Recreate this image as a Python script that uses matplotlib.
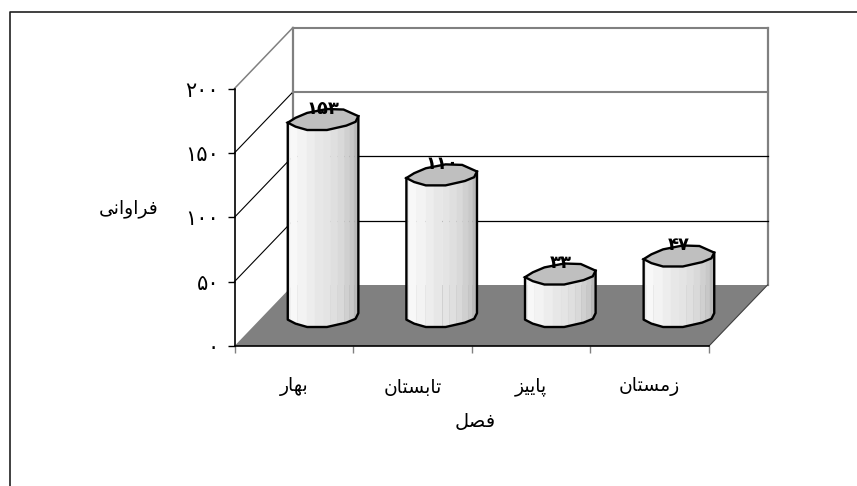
import numpy as np
import matplotlib
matplotlib.use("Agg")
import matplotlib.pyplot as plt
from matplotlib.lines import Line2D
from matplotlib.patches import Polygon

plt.rcParams['font.family'] = ['DejaVu Sans']

categories = ['بهار', 'تابستان', 'پاییز', 'زمستان']
values = [153, 110, 33, 47]
y_ticks = [0, 50, 100, 150, 200]
x_title = 'فصل'
y_title = 'فراوانی'

FORMS = {
    'ب': (0xFE8F, 0xFE90, 0xFE91, 0xFE92), 'ه': (0xFEE9, 0xFEEA, 0xFEEB, 0xFEEC),
    'ت': (0xFE95, 0xFE96, 0xFE97, 0xFE98), 'س': (0xFEB1, 0xFEB2, 0xFEB3, 0xFEB4),
    'ن': (0xFEE5, 0xFEE6, 0xFEE7, 0xFEE8), 'پ': (0xFB56, 0xFB57, 0xFB58, 0xFB59),
    'ی': (0xFBFC, 0xFBFD, 0xFBFE, 0xFBFF), 'م': (0xFEE1, 0xFEE2, 0xFEE3, 0xFEE4),
    'ف': (0xFED1, 0xFED2, 0xFED3, 0xFED4), 'ص': (0xFEB9, 0xFEBA, 0xFEBB, 0xFEBC),
    'ل': (0xFEDD, 0xFEDE, 0xFEDF, 0xFEE0),
    'ا': (0xFE8D, 0xFE8E), 'ر': (0xFEAD, 0xFEAE), 'ز': (0xFEAF, 0xFEB0), 'و': (0xFEED, 0xFEEE),
}


def shape(word):
    """Join Persian letters and put them in visual order (matplotlib does not shape)."""
    out = []
    for i, ch in enumerate(word):
        f = FORMS[ch]
        prev_joins = i > 0 and len(FORMS[word[i - 1]]) == 4
        next_joins = i < len(word) - 1 and len(f) == 4
        if prev_joins and next_joins:
            code = f[3]
        elif prev_joins:
            code = f[1]
        elif next_joins:
            code = f[2]
        else:
            code = f[0]
        out.append(chr(code))
    return ''.join(reversed(out))


def fa(n):
    return str(n).translate(str.maketrans('0123456789', '۰۱۲۳۴۵۶۷۸۹'))


W, H = 857, 486
fig = plt.figure(figsize=(W / 100, H / 100), dpi=100, facecolor='white')

# outer frame: only the top and left edges are inside the picture
fig.add_artist(Line2D([9.5 / W, 9.5 / W, 1], [0, 1 - 12 / H, 1 - 12 / H], transform=fig.transFigure,
                      color='#202020', lw=1.2))

# front plane of the chart, in pixels
L, R, B, T = 234.5, 709, 346, 88.5
ax = fig.add_axes([L / W, 1 - B / H, (R - L) / W, (B - T) / H])
ax.set_xlim(0, len(categories))
ax.set_ylim(0, 200)
ax.patch.set_visible(False)
for s in ('top', 'right'):
    ax.spines[s].set_visible(False)
for s in ('left', 'bottom'):
    ax.spines[s].set_linewidth(1.2)
    ax.spines[s].set_zorder(6)

xu = (R - L) / len(categories)        # pixels per category
yu = (B - T) / 200                    # pixels per value unit
depth_x, depth_y = 58.5 / xu, 61 / yu   # oblique depth in data units

GREY = '#808080'
ymax = y_ticks[-1]
nc = len(categories)

# floor
ax.add_patch(Polygon([(0, 0), (nc, 0), (nc + depth_x, depth_y), (depth_x, depth_y)],
                     fc=GREY, ec='none', zorder=1, clip_on=False))
# walls' edges
ax.plot([depth_x, depth_x], [depth_y, ymax + depth_y], color=GREY, lw=1.6, zorder=1.5, clip_on=False)
ax.plot([nc + depth_x, nc + depth_x], [depth_y, ymax + depth_y], color=GREY, lw=1.6, zorder=1.5, clip_on=False)
ax.plot([nc, nc + depth_x], [0, depth_y], color='#404040', lw=0.8, zorder=1.5, clip_on=False)
# gridlines on side and back walls
for v in y_ticks[1:]:
    col = GREY if v >= 150 else 'black'
    lw = 1.5 if v >= 150 else 0.9
    if v == 200:
        ax.plot([0, depth_x], [v, v + depth_y], color=GREY, lw=1.1, zorder=1.5, clip_on=False)
    else:
        ax.plot([0, depth_x], [v, v + depth_y], color='black', lw=0.8, zorder=1.5, clip_on=False)
    ax.plot([depth_x, nc + depth_x], [v + depth_y, v + depth_y], color=col, lw=lw, zorder=1.5, clip_on=False)

# cylinder outline, fractions of half width / half height (slanted polygon as in the original)
top_back = np.array([(-1, .3), (-.78, -.16), (-.45, -.63), (.11, -1), (.58, -.95), (1, -.32)])
top_front = np.array([(-1, .3), (-.78, .68), (-.45, 1), (.11, 1), (.66, .58), (.92, .22), (1, -.32)])
bands_x = np.array([-1, -.93, -.72, -.45, -.22, .02, .22, .42, .6, .75, .88, 1])
bands_c = ['#e6e6e6', '#f8f8f8', '#f3f3f3', '#ededed', '#e7e7e7', '#e4e4e4',
           '#dfdfdf', '#d9d9d9', '#d0d0d0', '#c8c8c8', '#b9b9b9']
hw, hh = 35.3, 10.5   # pixels

for i, v in enumerate(values):
    cx = i + .5 + depth_x / 2
    cy0 = (B - 316.5) / yu
    cy1 = cy0 + v
    sx, sy = hw / xu, hh / yu
    front_x = top_front[:, 0] * sx
    front_y = -top_front[:, 1] * sy
    # shaded side
    for k in range(len(bands_c)):
        a, b = bands_x[k] * sx, bands_x[k + 1] * sx
        xs = np.array([a, (a + b) / 2, b])
        low = np.interp(xs, front_x, front_y)
        ax.add_patch(Polygon([(cx + a, cy0 + low[0]), (cx + b, cy0 + low[2]),
                              (cx + b, cy1 + low[2]), (cx + a, cy1 + low[0])],
                             fc=bands_c[k], ec=bands_c[k], lw=0.3, zorder=3, clip_on=False))
    # outline of the side
    ox = np.r_[cx + front_x[0], cx + front_x, cx + front_x[-1]]
    oy = np.r_[cy1 + front_y[0], cy0 + front_y, cy1 + front_y[-1]]
    ax.plot(ox, oy, color='black', lw=1.7, zorder=4, clip_on=False, solid_joinstyle='round')
    # top cap
    cap = np.vstack([top_back, top_front[::-1][1:-1]])
    ax.add_patch(Polygon(np.c_[cx + cap[:, 0] * sx, cy1 - cap[:, 1] * sy], closed=True,
                         fc='#bfbfbf', ec='black', lw=1.7, zorder=4.5, clip_on=False))
    # value label
    ax.text(cx, cy1 + 11 / yu, fa(v), ha='center', va='center', fontsize=13,
            fontweight='bold', color='black', zorder=7, clip_on=False)

ax.set_yticks(y_ticks)
ax.set_yticklabels([fa(v) for v in y_ticks], fontsize=15)
ax.set_xticks(range(nc + 1))
ax.set_xticklabels([''] * (nc + 1))
ax.tick_params(axis='both', length=5, width=1.0, color='black')
ax.tick_params(axis='x', length=5, color=GREY)
ax.tick_params(axis='y', direction='out', pad=6)

for i, c in enumerate(categories):
    ax.annotate(shape(c), (i + .5, 0), xytext=(0, -41), textcoords='offset pixels',
                ha='center', va='center', fontsize=13.5, annotation_clip=False)
ax.annotate(shape(x_title), (nc / 2, 0), xytext=(3, -75), textcoords='offset pixels',
            ha='center', va='center', fontsize=14, annotation_clip=False)
ax.annotate(shape(y_title), (0, 100), xytext=(-106, 9), textcoords='offset pixels',
            ha='center', va='center', fontsize=13.5, annotation_clip=False)

fig.savefig('out.png', dpi=100)
